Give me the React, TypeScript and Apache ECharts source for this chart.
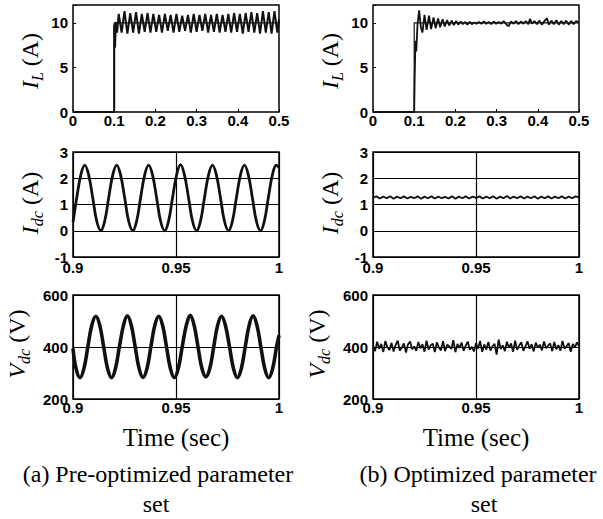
import React, { useEffect, useRef } from 'react';
import * as echarts from 'echarts';

// ---------- data ----------
const topTicksX = [0, 0.1, 0.2, 0.3, 0.4, 0.5];
const lowTicksX = [0.9, 0.95, 1];

// reference step of inductor current (both cases)
const ilRef: [number, number][] = [[0, 0], [0.1, 0], [0.1, 10], [0.5, 10]];

// (a) pre-optimized inductor current
const ilPre: [number, number][] = [
  [0, 0], [0.1, 0], [0.1, 9.8], [0.102, 7.2], [0.104, 10.1], [0.107, 8.9],
  [0.111, 11.0], [0.118, 8.9], [0.125, 11.3], [0.132, 8.8], [0.139, 11.1], [0.146, 8.9],
  [0.153, 11.2], [0.160, 8.8], [0.167, 11.0], [0.174, 9.0], [0.181, 11.1], [0.188, 8.9],
  [0.195, 11.0], [0.202, 9.0], [0.209, 10.9], [0.216, 8.9], [0.223, 11.0], [0.230, 9.1],
  [0.237, 10.9], [0.244, 8.9], [0.251, 11.0], [0.258, 9.0], [0.265, 10.8], [0.272, 9.1],
  [0.279, 10.9], [0.286, 8.9], [0.293, 11.0], [0.300, 9.0], [0.307, 10.9], [0.314, 9.1],
  [0.321, 11.0], [0.328, 8.9], [0.335, 10.9], [0.342, 9.0], [0.349, 11.0], [0.356, 8.9],
  [0.363, 10.9], [0.370, 9.0], [0.377, 11.0], [0.384, 8.9], [0.391, 11.1], [0.398, 9.0],
  [0.405, 11.0], [0.412, 8.8], [0.419, 11.1], [0.426, 9.0], [0.433, 11.2], [0.440, 8.9],
  [0.447, 11.1], [0.454, 8.8], [0.461, 11.3], [0.468, 8.9], [0.475, 11.2], [0.482, 8.8],
  [0.489, 11.3], [0.496, 8.9], [0.5, 10.4],
];

// (b) optimized inductor current
const ilOpt: [number, number][] = [
  [0, 0], [0.1, 0], [0.101, 3.5], [0.103, 8.0], [0.105, 6.8], [0.108, 9.8], [0.112, 11.4],
  [0.116, 9.6], [0.120, 8.9], [0.125, 10.9], [0.130, 9.2], [0.136, 10.8], [0.141, 9.3],
  [0.147, 10.6], [0.152, 9.4], [0.158, 10.5], [0.163, 9.5], [0.169, 10.4], [0.174, 9.6],
  [0.180, 10.3], [0.185, 9.7], [0.191, 10.25], [0.196, 9.75], [0.202, 10.2], [0.207, 9.8],
  [0.213, 10.15], [0.218, 9.85], [0.224, 10.1], [0.229, 9.8], [0.235, 10.1], [0.240, 9.85],
  [0.246, 10.05], [0.251, 9.9], [0.257, 10.1], [0.263, 9.9], [0.269, 10.15], [0.275, 9.9],
  [0.281, 10.1], [0.287, 9.85], [0.293, 10.15], [0.299, 9.9], [0.305, 10.1], [0.311, 9.9],
  [0.317, 10.2], [0.323, 9.85], [0.329, 9.6], [0.335, 10.15], [0.341, 9.9], [0.347, 10.2],
  [0.353, 9.85], [0.359, 10.15], [0.365, 9.9], [0.371, 10.2], [0.377, 9.85], [0.381, 10.45],
  [0.386, 9.9], [0.392, 10.2], [0.398, 9.85], [0.404, 10.25], [0.410, 9.8], [0.416, 10.2],
  [0.422, 10.5], [0.427, 9.8], [0.433, 10.25], [0.439, 9.85], [0.445, 10.3], [0.451, 9.8],
  [0.457, 10.2], [0.463, 9.85], [0.469, 10.25], [0.475, 9.8], [0.481, 10.2], [0.487, 9.85],
  [0.493, 10.2], [0.5, 10.0],
];

// (a) pre-optimized dc current
const idcPre: [number, number][] = [
  [0.9, 0.33], [0.9018, 1.25], [0.9038, 2.13], [0.9057, 2.5], [0.9076, 2.13], [0.9096, 1.25],
  [0.9115, 0.37], [0.9135, 0.0], [0.9154, 0.37], [0.9173, 1.25], [0.9193, 2.13], [0.9212, 2.5],
  [0.9231, 2.13], [0.9251, 1.25], [0.927, 0.37], [0.929, 0.0], [0.9309, 0.37], [0.9328, 1.25],
  [0.9348, 2.13], [0.9367, 2.5], [0.9386, 2.13], [0.9406, 1.25], [0.9425, 0.37], [0.9445, 0.0],
  [0.9464, 0.37], [0.9483, 1.25], [0.9503, 2.13], [0.9522, 2.52], [0.9541, 2.13], [0.9561, 1.25],
  [0.958, 0.37], [0.96, 0.0], [0.9619, 0.37], [0.9638, 1.25], [0.9658, 2.13], [0.9677, 2.5],
  [0.9696, 2.13], [0.9716, 1.25], [0.9735, 0.37], [0.9755, 0.0], [0.9774, 0.37], [0.9793, 1.25],
  [0.9813, 2.13], [0.9832, 2.5], [0.9851, 2.13], [0.9871, 1.25], [0.989, 0.37], [0.991, 0.0],
  [0.9929, 0.37], [0.9948, 1.25], [0.9968, 2.13], [0.9987, 2.5], [1.0, 2.4],
];

// (b) optimized dc current (evenly sampled over 0.9..1)
const idcOpt = [
  1.26, 1.31, 1.23, 1.30, 1.24, 1.31, 1.22, 1.30, 1.24, 1.31, 1.23, 1.29, 1.24, 1.31, 1.22,
  1.30, 1.24, 1.31, 1.23, 1.30, 1.24, 1.29, 1.23, 1.31, 1.22, 1.30, 1.24, 1.31, 1.23, 1.30,
  1.25, 1.31, 1.23, 1.30, 1.24, 1.31, 1.22, 1.30, 1.24, 1.32, 1.23, 1.30, 1.24, 1.31, 1.23,
  1.30, 1.24, 1.31, 1.22, 1.30, 1.24, 1.31, 1.23, 1.30, 1.24, 1.31, 1.23, 1.30, 1.24, 1.31, 1.27,
];

// (a) pre-optimized dc voltage
const vdcPre: [number, number][] = [
  [0.9, 395], [0.9015, 317], [0.9034, 282], [0.9053, 317], [0.9072, 400], [0.9091, 483],
  [0.9111, 518], [0.913, 483], [0.9149, 400], [0.9168, 317], [0.9187, 282], [0.9206, 317],
  [0.9225, 400], [0.9245, 483], [0.9264, 520], [0.9283, 483], [0.9302, 400], [0.9321, 317],
  [0.934, 283], [0.9359, 317], [0.9378, 400], [0.9397, 483], [0.9416, 518], [0.9435, 483],
  [0.9454, 400], [0.9473, 317], [0.9492, 282], [0.9511, 317], [0.953, 400], [0.955, 483],
  [0.9569, 522], [0.9588, 483], [0.9607, 400], [0.9626, 317], [0.9645, 285], [0.9664, 317],
  [0.9683, 400], [0.9702, 483], [0.9721, 518], [0.974, 483], [0.976, 400], [0.9779, 317],
  [0.9798, 282], [0.9817, 317], [0.9836, 400], [0.9855, 483], [0.9874, 520], [0.9893, 483],
  [0.9912, 400], [0.9931, 317], [0.995, 282], [0.9969, 317], [0.9988, 400], [1.0, 445],
];

// (b) optimized dc voltage (evenly sampled over 0.9..1)
const vdcOpt = [
  404, 384, 420, 393, 412, 381, 423, 399, 388, 416, 383, 408, 424, 386, 397, 414, 379, 410, 421, 391,
  402, 385, 419, 395, 411, 382, 424, 390, 406, 413, 381, 418, 398, 387, 422, 384, 409, 403, 392, 426,
  380, 412, 396, 417, 385, 405, 421, 389, 401, 383, 415, 394, 423, 381, 410, 390, 419, 386, 403, 412,
  371, 428, 392, 407, 384, 420, 397, 414, 382, 424, 389, 406, 418, 385, 402, 422, 393, 411, 383, 417,
  398, 409, 387, 421, 395, 405, 414, 384, 419, 391, 407, 386, 423, 394, 403, 415, 382, 412, 398, 418, 404,
];

// ---------- helpers ----------
const SANS = '"Liberation Sans", Arial, Helvetica, sans-serif';
const SERIF = '"Liberation Serif", "Times New Roman", serif';
const INK = '#111';

const even = (vals: number[], a: number, b: number): [number, number][] =>
  vals.map((v, i) => [a + (i * (b - a)) / (vals.length - 1), v]);

const fmt = (v: number) => String(Math.round(v * 100) / 100);

const grids = [
  { left: 73, top: 5, width: 206, height: 107 },
  { left: 373, top: 5, width: 206, height: 107 },
  { left: 73, top: 152, width: 206, height: 105 },
  { left: 373, top: 152, width: 206, height: 105 },
  { left: 73, top: 295, width: 206, height: 104 },
  { left: 373, top: 295, width: 206, height: 104 },
].map((g) => ({ ...g, show: true, borderColor: '#000', borderWidth: 1.5, backgroundColor: 'transparent' }));

const labelStyle = { fontSize: 15, fontWeight: 'bold' as const, color: '#000', fontFamily: SANS };

function xAxis(gi: number) {
  const top = gi < 2;
  const ticks = top ? topTicksX : lowTicksX;
  const grid = gi >= 2;
  return {
    type: 'value',
    gridIndex: gi,
    min: ticks[0],
    max: ticks[ticks.length - 1],
    interval: top ? 0.1 : 0.05,
    axisLine: { show: false },
    axisTick: { show: true, inside: true, length: 3, lineStyle: { color: '#000', width: 1 } },
    splitLine: { show: grid, lineStyle: { color: '#000', width: 1.2 } },
    axisLabel: { ...labelStyle, margin: gi < 2 ? 1 : gi < 4 ? 3 : 1, formatter: fmt },
  };
}

function yAxis(gi: number) {
  const row = Math.floor(gi / 2);
  const cfg =
    row === 0
      ? { min: 0, max: 12, interval: 5 }
      : row === 1
      ? { min: -1, max: 3, interval: 1 }
      : { min: 200, max: 600, interval: 200 };
  return {
    type: 'value',
    gridIndex: gi,
    ...cfg,
    axisLine: { show: false },
    axisTick: { show: true, inside: true, length: 3, lineStyle: { color: '#000', width: 1 } },
    splitLine: { show: row > 0, lineStyle: { color: '#000', width: 1.2 } },
    axisLabel: {
      ...labelStyle,
      margin: 5,
      formatter: (v: number) => (row === 0 && v === 12 ? '' : fmt(v)),
    },
  };
}

function line(gi: number, data: [number, number][], width: number, smooth: boolean | number = false) {
  return {
    type: 'line',
    xAxisIndex: gi,
    yAxisIndex: gi,
    data,
    showSymbol: false,
    symbol: 'none',
    smooth,
    lineStyle: { color: INK, width },
    silent: true,
  };
}

function yLabel(x: number, y: number, main: string, sub: string, unit: string) {
  return {
    type: 'text',
    x,
    y,
    rotation: Math.PI / 2,
    style: {
      text: `{i|${main}}{s|${sub}}{n| (${unit})}`,
      align: 'center',
      verticalAlign: 'middle',
      fill: '#000',
      rich: {
        i: { fontFamily: SERIF, fontStyle: 'italic', fontSize: 24, lineHeight: 26, verticalAlign: 'top', fill: '#000' },
        s: {
          fontFamily: SERIF,
          fontStyle: 'italic',
          fontSize: 16,
          lineHeight: 15,
          padding: [11, 0, 0, 0],
          verticalAlign: 'top',
          fill: '#000',
        },
        n: { fontFamily: SERIF, fontSize: 24, lineHeight: 26, verticalAlign: 'top', fill: '#000' },
      },
    },
  };
}

function caption(x: number, y: number, text: string, size: number) {
  return {
    type: 'text',
    x,
    y,
    style: { text, fontFamily: SERIF, fontSize: size, fill: '#000', align: 'center', verticalAlign: 'middle' },
  };
}

const option = {
  animation: false,
  backgroundColor: '#fff',
  grid: grids,
  xAxis: [0, 1, 2, 3, 4, 5].map(xAxis),
  yAxis: [0, 1, 2, 3, 4, 5].map(yAxis),
  series: [
    line(0, ilRef, 1.2),
    line(0, ilPre, 2),
    line(1, ilRef, 1.2),
    line(1, ilOpt, 1.8),
    line(2, idcPre, 2.8, 0.4),
    line(3, even(idcOpt, 0.9, 1.0), 1.8),
    line(4, vdcPre, 3.6, 0.4),
    line(5, even(vdcOpt, 0.9, 1.0), 1.8),
  ],
  graphic: [
    yLabel(31, 61, 'I', 'L', 'A'),
    yLabel(331, 61, 'I', 'L', 'A'),
    yLabel(31, 203, 'I', 'dc', 'A'),
    yLabel(331, 203, 'I', 'dc', 'A'),
    yLabel(18, 344, 'V', 'dc', 'V'),
    yLabel(318, 344, 'V', 'dc', 'V'),
    caption(176, 437, 'Time (sec)', 25),
    caption(476, 437, 'Time (sec)', 25),
    caption(158, 474, '(a) Pre-optimized parameter', 24),
    caption(156, 504, 'set', 24),
    caption(478, 474, '(b) Optimized parameter', 24),
    caption(484, 504, 'set', 24),
  ],
};

export default function App() {
  const ref = useRef<HTMLDivElement>(null);
  useEffect(() => {
    if (!ref.current) return;
    const chart = echarts.init(ref.current, null, { renderer: 'svg' });
    chart.setOption(option as any);
    return () => chart.dispose();
  }, []);
  return (
    <div
      ref={ref}
      style={{ position: 'fixed', left: 0, top: 0, width: 603, height: 519, background: '#fff' }}
    />
  );
}
